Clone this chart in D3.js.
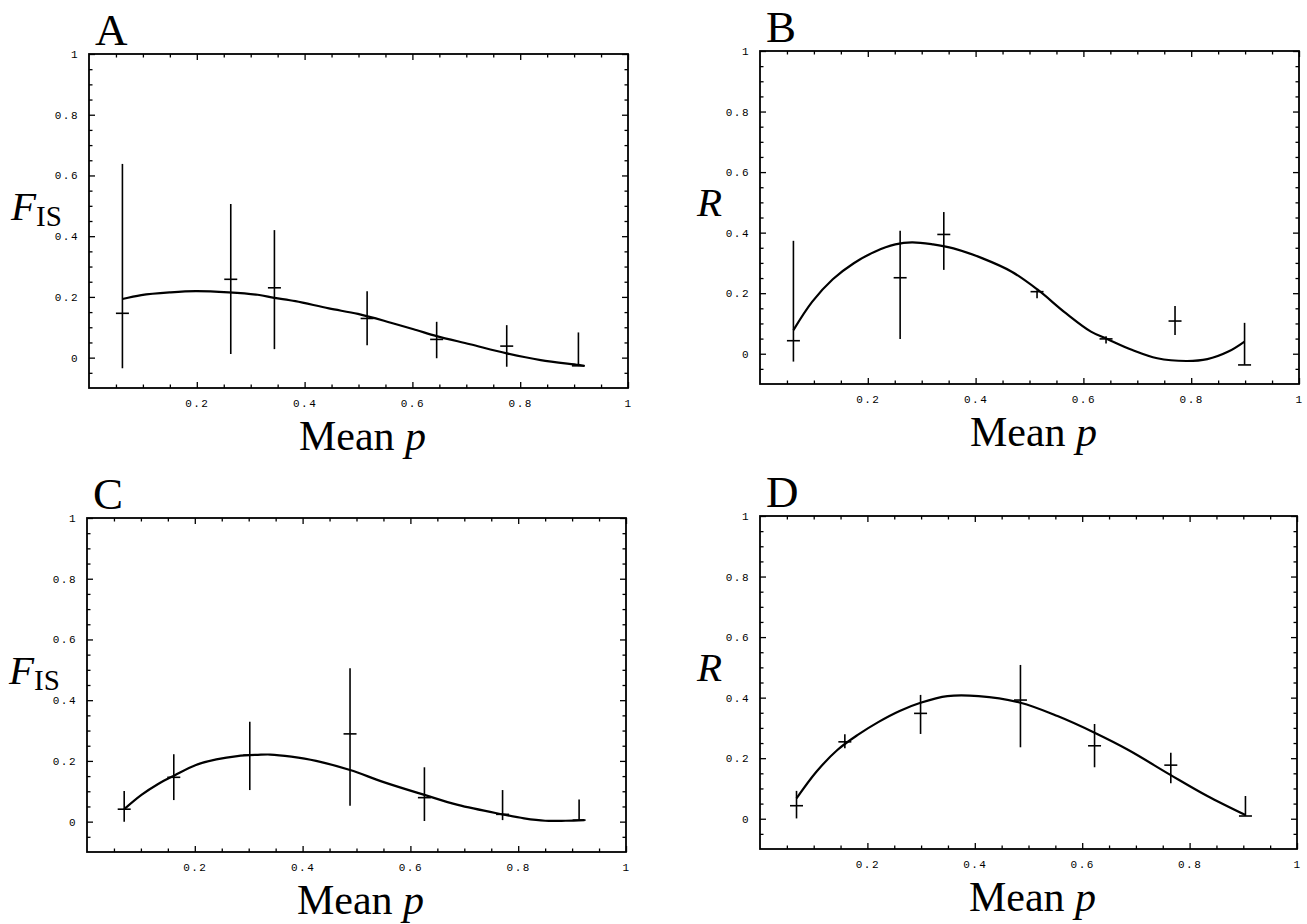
<!DOCTYPE html>
<html>
<head>
<meta charset="utf-8">
<script src="https://cdn.jsdelivr.net/npm/d3@7"></script>
<style>
  body { margin: 0; background: #fff; }
  .tick text { font-family: "Liberation Mono", "DejaVu Sans Mono", monospace; font-size: 11px; letter-spacing: 1.5px; fill: #000; }
  .tick line { stroke: #000; stroke-width: 1.3; }
  .serif { font-family: "Liberation Serif", "Times New Roman", serif; fill: #000; }
</style>
</head>
<body>
<script>
// tick values shared by all four panels
var xMajor = [0.2, 0.4, 0.6, 0.8, 1];
var yMajor = [0, 0.2, 0.4, 0.6, 0.8, 1];
var xMinor = [0.05, 0.1, 0.15, 0.25, 0.3, 0.35, 0.45, 0.5, 0.55, 0.65, 0.7, 0.75, 0.85, 0.9, 0.95];
var yMinor = [-0.05, 0.05, 0.1, 0.15, 0.25, 0.3, 0.35, 0.45, 0.5, 0.55, 0.65, 0.7, 0.75, 0.85, 0.9, 0.95];

// panel A : F_IS
var aP    = [0.062, 0.263, 0.344, 0.516, 0.645, 0.775, 0.908];
var aMean = [0.146, 0.258, 0.230, 0.129, 0.060, 0.038, -0.027];
var aLow  = [-0.035, 0.012, 0.028, 0.041, -0.002, -0.030, -0.028];
var aHigh = [0.638, 0.506, 0.420, 0.219, 0.118, 0.107, 0.083];
var aFitP = [0.062, 0.097, 0.151, 0.198, 0.259, 0.313, 0.344, 0.383, 0.445, 0.499, 0.560, 0.607, 0.645, 0.707, 0.775, 0.838, 0.908, 0.919];
var aFitV = [0.193, 0.206, 0.215, 0.219, 0.215, 0.207, 0.197, 0.186, 0.162, 0.144, 0.115, 0.091, 0.071, 0.044, 0.014, -0.008, -0.024, -0.027];

// panel B : R
var bP    = [0.062, 0.260, 0.341, 0.514, 0.642, 0.770, 0.899];
var bMean = [0.043, 0.251, 0.394, 0.205, 0.049, 0.108, -0.037];
var bLow  = [-0.026, 0.049, 0.277, 0.183, 0.034, 0.062, -0.037];
var bHigh = [0.373, 0.406, 0.468, 0.210, 0.058, 0.158, 0.102];
var bFitP = [0.062, 0.097, 0.135, 0.174, 0.213, 0.251, 0.282, 0.321, 0.359, 0.413, 0.467, 0.514, 0.568, 0.614, 0.645, 0.691, 0.737, 0.791, 0.830, 0.869, 0.899];
var bFitV = [0.078, 0.172, 0.246, 0.299, 0.337, 0.361, 0.368, 0.361, 0.348, 0.315, 0.271, 0.213, 0.133, 0.073, 0.048, 0.012, -0.015, -0.024, -0.018, 0.007, 0.040];

// panel C : F_IS
var cP    = [0.069, 0.161, 0.302, 0.488, 0.626, 0.771, 0.913];
var cMean = [0.041, 0.146, 0.219, 0.289, 0.079, 0.024, 0.005];
var cLow  = [0.000, 0.071, 0.104, 0.052, 0.002, 0.005, 0.005];
var cHigh = [0.101, 0.222, 0.329, 0.505, 0.179, 0.104, 0.073];
var cFitP = [0.069, 0.101, 0.132, 0.163, 0.201, 0.240, 0.279, 0.317, 0.340, 0.379, 0.425, 0.488, 0.549, 0.626, 0.688, 0.771, 0.811, 0.850, 0.888, 0.923];
var cFitV = [0.041, 0.088, 0.124, 0.153, 0.186, 0.205, 0.216, 0.220, 0.221, 0.214, 0.200, 0.170, 0.131, 0.088, 0.055, 0.024, 0.011, 0.003, 0.003, 0.005];

// panel D : R
var dP    = [0.068, 0.158, 0.299, 0.485, 0.623, 0.765, 0.904];
var dMean = [0.043, 0.254, 0.348, 0.392, 0.241, 0.177, 0.009];
var dLow  = [0.001, 0.233, 0.280, 0.236, 0.170, 0.117, 0.009];
var dHigh = [0.092, 0.279, 0.409, 0.508, 0.313, 0.218, 0.075];
var dFitP = [0.068, 0.105, 0.144, 0.182, 0.221, 0.260, 0.299, 0.349, 0.407, 0.485, 0.554, 0.623, 0.686, 0.765, 0.833, 0.904];
var dFitV = [0.067, 0.155, 0.227, 0.277, 0.320, 0.356, 0.383, 0.405, 0.405, 0.383, 0.339, 0.284, 0.227, 0.144, 0.075, 0.012];

function pts(p, v, lo, hi) {
    return p.map(function (d, i) { return { p: d, v: v[i], lo: lo[i], hi: hi[i] }; });
}
function fit(p, v) {
    return p.map(function (d, i) { return { p: d, v: v[i] }; });
}

var panels = [
    { letter: "A", ylab: "F", sub: "IS", left: 89,  top: 54,  w: 539, h: 334, data: pts(aP, aMean, aLow, aHigh), curve: fit(aFitP, aFitV) },
    { letter: "B", ylab: "R", sub: "",   left: 760, top: 51,  w: 539, h: 333, data: pts(bP, bMean, bLow, bHigh), curve: fit(bFitP, bFitV) },
    { letter: "C", ylab: "F", sub: "IS", left: 87,  top: 518, w: 539, h: 334, data: pts(cP, cMean, cLow, cHigh), curve: fit(cFitP, cFitV) },
    { letter: "D", ylab: "R", sub: "",   left: 760, top: 516, w: 537, h: 333, data: pts(dP, dMean, dLow, dHigh), curve: fit(dFitP, dFitV) }
];

var svg = d3.select("body").append("svg")
    .attr("width", 1307)
    .attr("height", 924);

panels.forEach(function (pn) {
    var g = svg.append("g")
        .attr("transform", "translate(" + pn.left + "," + pn.top + ")");

    var x = d3.scaleLinear().domain([0, 1]).range([0, pn.w]);
    var y = d3.scaleLinear().domain([-0.1, 1]).range([pn.h, 0]);

    // major ticks with labels (bottom, left), ticks point inward
    g.append("g").attr("transform", "translate(0," + pn.h + ")")
        .call(d3.axisBottom(x).tickValues(xMajor).tickSizeInner(-6).tickSizeOuter(0).tickPadding(11).tickFormat(String));
    g.append("g")
        .call(d3.axisLeft(y).tickValues(yMajor).tickSizeInner(-6).tickSizeOuter(0).tickPadding(10).tickFormat(String));
    // mirrored major ticks
    g.append("g")
        .call(d3.axisTop(x).tickValues(xMajor).tickSizeInner(-6).tickSizeOuter(0).tickFormat(""));
    g.append("g").attr("transform", "translate(" + pn.w + ",0)")
        .call(d3.axisRight(y).tickValues(yMajor).tickSizeInner(-6).tickSizeOuter(0).tickFormat(""));
    // minor ticks on all four sides
    g.append("g").attr("transform", "translate(0," + pn.h + ")")
        .call(d3.axisBottom(x).tickValues(xMinor).tickSizeInner(-3.5).tickSizeOuter(0).tickFormat(""));
    g.append("g")
        .call(d3.axisTop(x).tickValues(xMinor).tickSizeInner(-3.5).tickSizeOuter(0).tickFormat(""));
    g.append("g")
        .call(d3.axisLeft(y).tickValues(yMinor).tickSizeInner(-3.5).tickSizeOuter(0).tickFormat(""));
    g.append("g").attr("transform", "translate(" + pn.w + ",0)")
        .call(d3.axisRight(y).tickValues(yMinor).tickSizeInner(-3.5).tickSizeOuter(0).tickFormat(""));

    g.selectAll(".domain").remove();

    g.append("rect")
        .attr("width", pn.w)
        .attr("height", pn.h)
        .attr("fill", "none")
        .attr("stroke", "#000")
        .attr("stroke-width", 1.8);

    // fitted curve
    var line = d3.line()
        .x(function (d) { return x(d.p); })
        .y(function (d) { return y(d.v); })
        .curve(d3.curveCatmullRom.alpha(0.5));

    g.append("path")
        .datum(pn.curve)
        .attr("d", line)
        .attr("fill", "none")
        .attr("stroke", "#000")
        .attr("stroke-width", 2.2);

    // error bars
    g.selectAll(".bar")
        .data(pn.data)
        .enter()
        .append("line")
        .attr("class", "bar")
        .attr("x1", function (d) { return x(d.p); })
        .attr("x2", function (d) { return x(d.p); })
        .attr("y1", function (d) { return y(d.lo); })
        .attr("y2", function (d) { return y(d.hi); })
        .attr("stroke", "#000")
        .attr("stroke-width", 1.6);

    g.selectAll(".mean")
        .data(pn.data)
        .enter()
        .append("line")
        .attr("class", "mean")
        .attr("x1", function (d) { return x(d.p) - 6.5; })
        .attr("x2", function (d) { return x(d.p) + 6.5; })
        .attr("y1", function (d) { return y(d.v); })
        .attr("y2", function (d) { return y(d.v); })
        .attr("stroke", "#000")
        .attr("stroke-width", 1.6);

    // panel letter
    g.append("text")
        .attr("class", "serif")
        .attr("x", 6)
        .attr("y", -9)
        .attr("font-size", 45)
        .text(pn.letter);

    // x axis title
    var xt = g.append("text")
        .attr("class", "serif")
        .attr("x", pn.w / 2 + 4)
        .attr("y", pn.h + 62)
        .attr("text-anchor", "middle")
        .attr("font-size", 42);
    xt.append("tspan").text("Mean ");
    xt.append("tspan").attr("font-style", "italic").text("p");

    // y axis title
    var yt = g.append("text")
        .attr("class", "serif")
        .attr("x", pn.sub ? -78 : -63)
        .attr("y", y(0.5) + 14)
        .attr("font-size", 41);
    yt.append("tspan").attr("font-style", "italic").text(pn.ylab);
    if (pn.sub) {
        yt.append("tspan").attr("font-size", 29).attr("dy", 6).text(pn.sub);
    }
});
</script>
</body>
</html>
